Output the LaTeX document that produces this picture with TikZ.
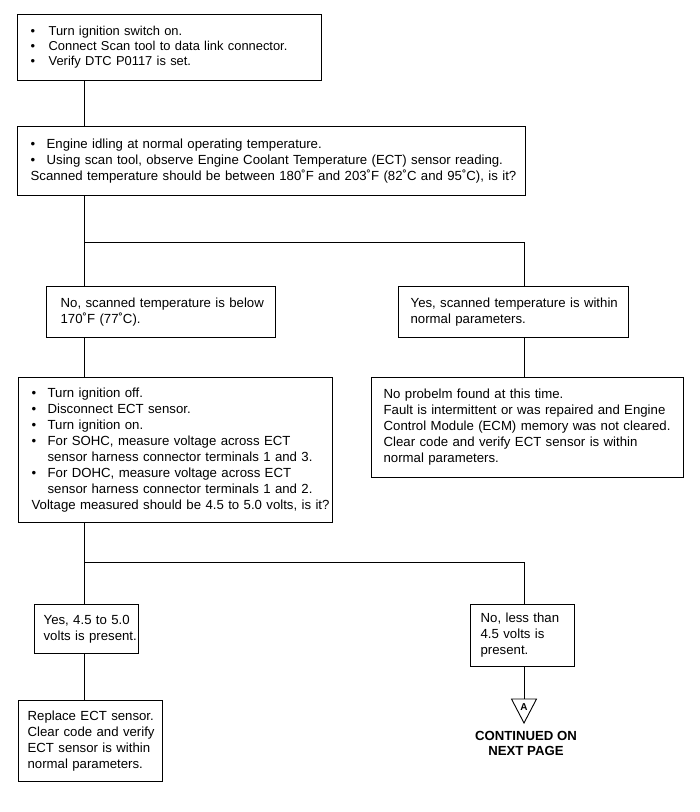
\documentclass[tikz,border=0pt]{standalone}
\usepackage{fontspec}
\setmainfont{Liberation Sans}
\newcommand{\puce}[1][16pt]{\makebox[#1][l]{\textbullet}}
\newcommand{\retrait}{\hspace*{16pt}}
\newcommand{\lignes}[1]{\noindent\begin{tabular}{@{}l@{}}#1\end{tabular}}

\begin{document}
\begin{tikzpicture}[x=1pt,y=-1pt,
    etape/.style={draw, line width=1.3pt, anchor=north west, align=left,
      inner ysep=0pt, font=\fontsize{13.2}{16}\selectfont},
    lien/.style={line width=0.9pt}]
    \useasboundingbox (0,0) rectangle (700,812);
    % Colonnes des liaisons
    \coordinate (gauche) at (84,0);
    \coordinate (droite) at (524,0);
    \coordinate (fourche1) at (84,242);
    \coordinate (fourche2) at (84,562);
    % Mise en route
    \node[etape, text width=278pt, inner xsep=13pt, minimum height=66pt,
      font=\fontsize{12.9}{15}\selectfont] (contact) at (17,14)
      {\lignes{\puce[18pt]Turn ignition switch on.\\
       \puce[18pt]Connect Scan tool to data link connector.\\
       \puce[18pt]Verify DTC P0117 is set.}};
    \node[etape, text width=482pt, inner xsep=13pt, minimum height=69pt] (ralenti) at (17,126)
      {\lignes{\puce Engine idling at normal operating temperature.\\
       \puce Using scan tool, observe Engine Coolant Temperature (ECT) sensor reading.\\
       Scanned temperature should be between 180˚F and 203˚F (82˚C and 95˚C), is it?}};
    % Premier choix
    \node[etape, text width=201pt, inner xsep=14pt, minimum height=51pt] (bas) at (46,286)
      {\lignes{No, scanned temperature is below\\ 170˚F (77˚C).}};
    \node[etape, text width=206pt, inner xsep=12pt, minimum height=51pt] (normal) at (398,286)
      {\lignes{Yes, scanned temperature is within\\ normal parameters.}};
    \node[etape, text width=288pt, inner xsep=13pt, minimum height=145pt] (tension) at (18,377)
      {\lignes{\puce Turn ignition off.\\
       \puce Disconnect ECT sensor.\\
       \puce Turn ignition on.\\
       \puce For SOHC, measure voltage across ECT\\
       \retrait sensor harness connector terminals 1 and 3.\\
       \puce For DOHC, measure voltage across ECT\\
       \retrait sensor harness connector terminals 1 and 2.\\
       Voltage measured should be 4.5 to 5.0 volts, is it?}};
    \node[etape, text width=288pt, inner xsep=12pt, minimum height=100pt] (aucun) at (371,377)
      {\lignes{No probelm found at this time.\\
       Fault is intermittent or was repaired and Engine\\
       Control Module (ECM) memory was not cleared.\\
       Clear code and verify ECT sensor is within\\
       normal parameters.}};
    % Second choix
    \node[etape, text width=86pt, inner xsep=9pt, minimum height=49pt] (oui) at (34,604)
      {\lignes{Yes, 4.5 to 5.0\\ volts is present.}};
    \node[etape, text width=84pt, inner xsep=10pt, minimum height=62pt] (faible) at (470,604)
      {\lignes{No, less than\\ 4.5 volts is\\ present.}};
    \node[etape, text width=126pt, inner xsep=9pt, minimum height=81pt] (remplacer) at (18,700)
      {\lignes{Replace ECT sensor.\\ Clear code and verify\\ ECT sensor is within\\ normal parameters.}};
    % Renvoi A
    \coordinate (renvoi) at (524,699);
    \draw[lien] (511.5,699) -- (536.5,699) -- (524,723) -- cycle;
    \node[font=\bfseries\fontsize{10}{12}\selectfont, inner sep=0pt] (lettreA) at (524,707) {A};
    \node[align=center, font=\bfseries\fontsize{13.2}{15}\selectfont, anchor=north, inner sep=0pt]
      (suite) at (526,731) {CONTINUED ON\\NEXT PAGE};
    % Liaisons
    \draw[lien] (contact.south -| gauche) -- (ralenti.north -| gauche);
    \draw[lien] (ralenti.south -| gauche) -- (bas.north -| gauche);
    \draw[lien] (fourche1) -| (normal.north -| droite);
    \draw[lien] (bas.south -| gauche) -- (tension.north -| gauche);
    \draw[lien] (normal.south -| droite) -- (aucun.north -| droite);
    \draw[lien] (tension.south -| gauche) -- (oui.north -| gauche);
    \draw[lien] (fourche2) -| (faible.north -| droite);
    \draw[lien] (oui.south -| gauche) -- (remplacer.north -| gauche);
    \draw[lien] (faible.south -| droite) -- (renvoi);
\end{tikzpicture}
\end{document}
